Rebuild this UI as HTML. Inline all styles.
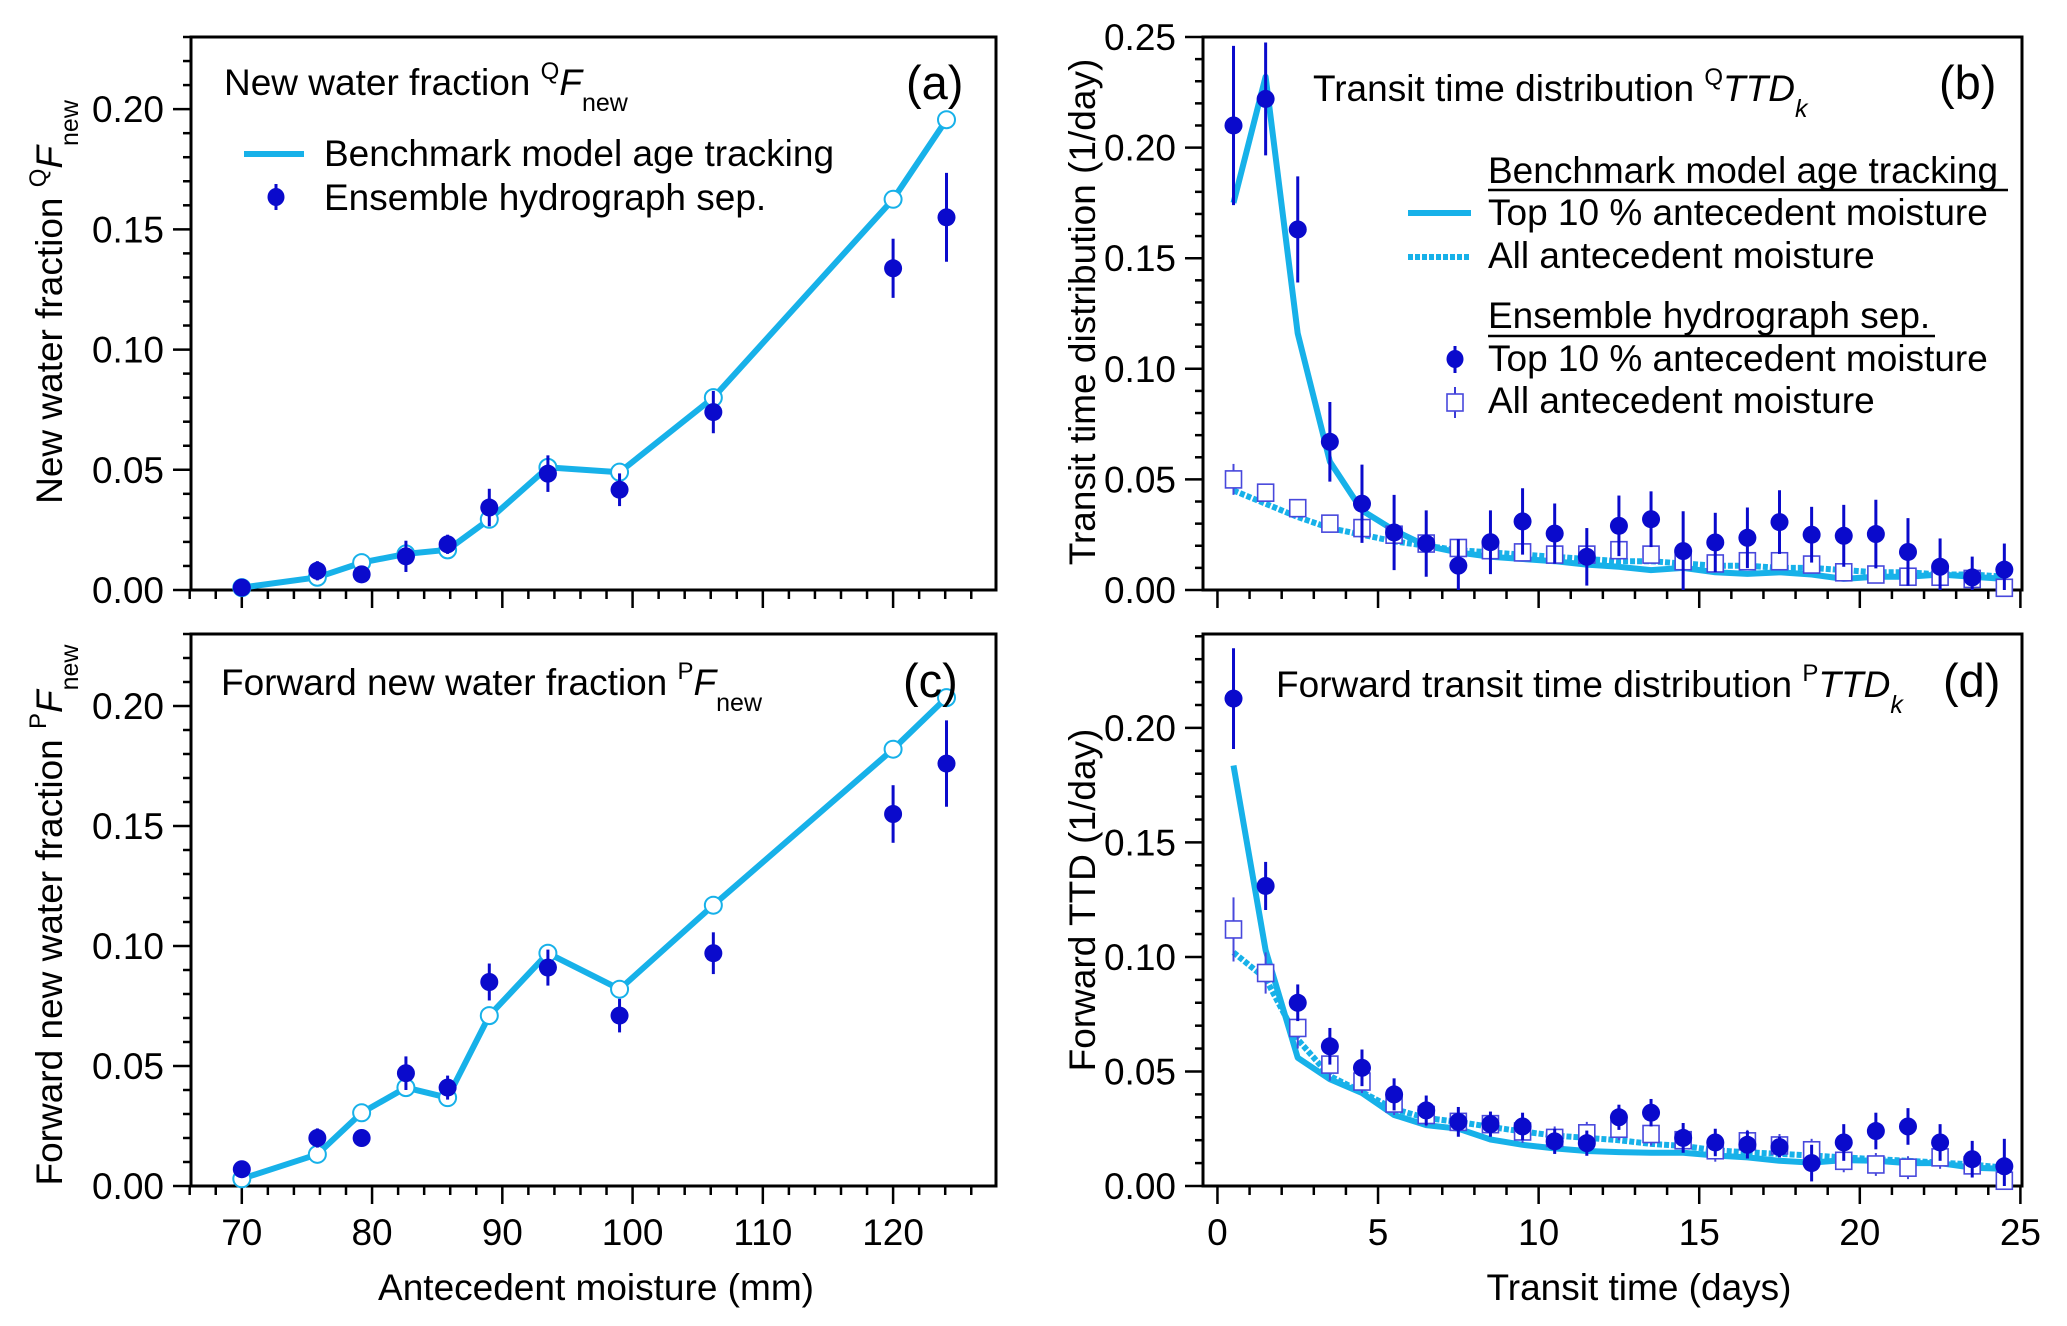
<!DOCTYPE html>
<html><head><meta charset="utf-8"><style>
html,body{margin:0;padding:0;background:#fff;}
svg{display:block;font-family:"Liberation Sans",Arial,sans-serif;}
</style></head><body>
<svg id="fig" width="2067" height="1326" viewBox="0 0 2067 1326" xmlns="http://www.w3.org/2000/svg">
<rect x="0" y="0" width="2067" height="1326" fill="#fff"/>
<g id="marks"></g>
<g id="texts" fill="#000" font-size="37">
  <!-- panel a -->
  <text x="224" y="95">New water fraction <tspan font-size="24" dy="-16">Q</tspan><tspan font-style="italic" dy="16">F</tspan><tspan font-size="25" dy="16">new</tspan></text>
  <text x="906" y="99" font-size="47">(a)</text>
  <line x1="244" y1="154" x2="304" y2="154" stroke="#17b1e9" stroke-width="6"/>
  <text x="324" y="166">Benchmark model age tracking</text>
  <line x1="276" y1="184" x2="276" y2="210" stroke="#0a0acc" stroke-width="3"/>
  <ellipse cx="276" cy="197" rx="8.5" ry="9" fill="#0a0acc"/>
  <text x="324" y="210">Ensemble hydrograph sep.</text>
  <text transform="translate(62,302) rotate(-90)" text-anchor="middle">New water fraction <tspan font-size="24" dy="-16">Q</tspan><tspan font-style="italic" dy="16">F</tspan><tspan font-size="25" dy="16">new</tspan></text>
  <!-- panel b -->
  <text x="1313" y="101">Transit time distribution <tspan font-size="24" dy="-16">Q</tspan><tspan font-style="italic" dy="16">TTD</tspan><tspan font-size="25" font-style="italic" dy="16">k</tspan></text>
  <text x="1939" y="99" font-size="47">(b)</text>
  <text x="1488" y="183">Benchmark model age tracking</text>
  <line x1="1488" y1="190" x2="2008" y2="190" stroke="#000" stroke-width="2.5"/>
  <line x1="1408" y1="213" x2="1471" y2="213" stroke="#17b1e9" stroke-width="6"/>
  <text x="1488" y="225">Top 10 % antecedent moisture</text>
  <line x1="1408" y1="257" x2="1471" y2="257" stroke="#17b1e9" stroke-width="6" stroke-dasharray="5,2"/>
  <text x="1488" y="268">All antecedent moisture</text>
  <text x="1488" y="328">Ensemble hydrograph sep.</text>
  <line x1="1488" y1="336" x2="1935" y2="336" stroke="#000" stroke-width="2.5"/>
  <line x1="1455" y1="346" x2="1455" y2="373" stroke="#0a0acc" stroke-width="3"/>
  <ellipse cx="1455" cy="359" rx="8.5" ry="9" fill="#0a0acc"/>
  <text x="1488" y="371">Top 10 % antecedent moisture</text>
  <line x1="1455" y1="387" x2="1455" y2="418" stroke="#3a3ad8" stroke-width="2"/>
  <rect x="1447" y="394" width="16" height="17" fill="#fff" stroke="#4848dc" stroke-width="1.6"/>
  <text x="1488" y="413">All antecedent moisture</text>
  <text transform="translate(1095,312) rotate(-90)" text-anchor="middle">Transit time distribution (1/day)</text>
  <!-- panel c -->
  <text x="221" y="695">Forward new water fraction <tspan font-size="24" dy="-16">P</tspan><tspan font-style="italic" dy="16">F</tspan><tspan font-size="25" dy="16">new</tspan></text>
  <text x="903" y="697" font-size="47">(c)</text>
  <text transform="translate(62,915) rotate(-90)" text-anchor="middle">Forward new water fraction <tspan font-size="24" dy="-16">P</tspan><tspan font-style="italic" dy="16">F</tspan><tspan font-size="25" dy="16">new</tspan></text>
  <text x="596" y="1300" text-anchor="middle">Antecedent moisture (mm)</text>
  <!-- panel d -->
  <text x="1276" y="697">Forward transit time distribution <tspan font-size="24" dy="-16">P</tspan><tspan font-style="italic" dy="16">TTD</tspan><tspan font-size="25" font-style="italic" dy="16">k</tspan></text>
  <text x="1943" y="697" font-size="47">(d)</text>
  <text transform="translate(1095,900) rotate(-90)" text-anchor="middle">Forward TTD (1/day)</text>
  <text x="1639" y="1300" text-anchor="middle">Transit time (days)</text>
</g>
</svg>
<script>
// ---- data ----
const moisture = [70, 75.8, 79.2, 82.6, 85.8, 89.0, 93.5, 99.0, 106.2, 120.0, 124.1];
const aModel = [0.001, 0.0053, 0.0114, 0.015, 0.0167, 0.0294, 0.051, 0.049, 0.080, 0.1625, 0.1956];
const aEns = [0.001, 0.008, 0.0065, 0.014, 0.019, 0.0343, 0.0484, 0.0417, 0.074, 0.1338, 0.155];
const aErr = [0.001, 0.004, 0.003, 0.0065, 0.004, 0.0078, 0.0076, 0.0068, 0.0088, 0.0123, 0.0185];
const cModel = [0.003, 0.0132, 0.0305, 0.041, 0.0368, 0.071, 0.097, 0.082, 0.117, 0.182, 0.2035];
const cEns = [0.007, 0.020, 0.020, 0.047, 0.041, 0.085, 0.091, 0.071, 0.097, 0.155, 0.176];
const cErr = [0.002, 0.004, 0.003, 0.007, 0.005, 0.0077, 0.0075, 0.007, 0.0087, 0.012, 0.018];

const ttdDays = [0.5,1.5,2.5,3.5,4.5,5.5,6.5,7.5,8.5,9.5,10.5,11.5,12.5,13.5,14.5,15.5,16.5,17.5,18.5,19.5,20.5,21.5,22.5,23.5,24.5];
const bModelTop = [0.175,0.232,0.116,0.058,0.036,0.027,0.020,0.017,0.015,0.014,0.013,0.0115,0.0105,0.009,0.010,0.008,0.0073,0.008,0.007,0.005,0.006,0.006,0.007,0.006,0.005];
const bModelAll = [0.045,0.039,0.033,0.028,0.025,0.022,0.020,0.018,0.017,0.016,0.015,0.014,0.013,0.013,0.012,0.011,0.011,0.010,0.010,0.009,0.008,0.008,0.007,0.007,0.006];
const bEnsTop = [0.210,0.222,0.163,0.067,0.039,0.026,0.021,0.011,0.0216,0.031,0.0255,0.015,0.029,0.032,0.0176,0.0215,0.0236,0.0307,0.025,0.0245,0.0253,0.0172,0.0105,0.0057,0.0092];
const bEnsTopErr = [0.036,0.0255,0.024,0.018,0.0177,0.017,0.015,0.012,0.0144,0.015,0.0136,0.013,0.0137,0.0126,0.018,0.0134,0.0137,0.0144,0.0126,0.014,0.0155,0.0153,0.0128,0.0094,0.0118];
const bEnsAll = [0.050,0.044,0.037,0.030,0.028,0.025,0.021,0.019,0.018,0.017,0.016,0.016,0.018,0.016,0.013,0.012,0.013,0.013,0.0115,0.008,0.007,0.006,0.006,0.005,0.001];
const bEnsAllErr = [0.007,0.004,0.004,0.003,0.004,0.004,0.003,0.003,0.003,0.003,0.003,0.003,0.003,0.003,0.003,0.003,0.003,0.003,0.003,0.003,0.003,0.003,0.003,0.003,0.002];

const dModelTop = [0.1836,0.103,0.056,0.0466,0.0406,0.031,0.0266,0.025,0.0203,0.018,0.0164,0.0153,0.0148,0.0145,0.0145,0.0133,0.0125,0.011,0.0102,0.0113,0.011,0.010,0.010,0.008,0.0075];
const dModelAll = [0.102,0.0906,0.064,0.048,0.041,0.0336,0.0297,0.028,0.0258,0.0238,0.022,0.021,0.020,0.0184,0.0175,0.0156,0.0147,0.014,0.0133,0.0125,0.0117,0.011,0.0102,0.0094,0.008];
const dEnsTop = [0.2128,0.131,0.080,0.061,0.0516,0.040,0.033,0.028,0.027,0.026,0.0195,0.0187,0.030,0.032,0.021,0.019,0.018,0.017,0.010,0.019,0.024,0.026,0.019,0.0117,0.0086];
const dEnsTopErr = [0.022,0.0105,0.008,0.008,0.008,0.007,0.0065,0.0065,0.0055,0.006,0.0055,0.0055,0.0055,0.006,0.0065,0.006,0.006,0.0045,0.008,0.008,0.008,0.008,0.008,0.008,0.012];
const dEnsAll = [0.112,0.093,0.069,0.053,0.0456,0.036,0.031,0.028,0.027,0.0238,0.021,0.023,0.025,0.0227,0.020,0.0156,0.0195,0.0177,0.0156,0.011,0.0094,0.008,0.0125,0.009,0.0023];
const dEnsAllErr = [0.014,0.009,0.009,0.007,0.005,0.005,0.005,0.005,0.005,0.005,0.005,0.005,0.005,0.005,0.005,0.005,0.005,0.005,0.005,0.005,0.005,0.005,0.005,0.005,0.004];

const fracTicks = [0, 0.05, 0.10, 0.15, 0.20];
const fracTickLabels = ["0.00","0.05","0.10","0.15","0.20"];
const ttdTicksB = [0, 0.05, 0.10, 0.15, 0.20, 0.25];
const ttdTickLabelsB = ["0.00","0.05","0.10","0.15","0.20","0.25"];
const moistTicks = [70, 80, 90, 100, 110, 120];
const moistTickLabels = ["70","80","90","100","110","120"];
const dayTicks = [0, 5, 10, 15, 20, 25];
const dayTickLabels = ["0","5","10","15","20","25"];

// ---- rendering ----
const NS = "http://www.w3.org/2000/svg";
const root = document.getElementById("marks");
const CYAN = "#17b1e9", BLUE = "#0a0acc", SQ = "#4848dc";
function mk(tag, attrs, parent) {
  const e = document.createElementNS(NS, tag);
  for (const k in attrs) e.setAttribute(k, attrs[k]);
  (parent || root).appendChild(e);
  return e;
}
function panel(cfg) {
  const p = Object.assign({}, cfg);
  p.sx = v => p.x0 + (v - p.xmin) / (p.xmax - p.xmin) * (p.x1 - p.x0);
  p.sy = v => p.y1 - (v - 0) / (p.ymax - 0) * (p.y1 - p.y0);
  return p;
}
const PA = panel({x0:191, x1:996, y0:37, y1:590, xmin:66.1, xmax:127.9, ymax:0.23});
const PB = panel({x0:1203, x1:2022, y0:37, y1:590, xmin:-0.45, xmax:25.05, ymax:0.25});
const PC = panel({x0:191, x1:996, y0:634, y1:1186, xmin:66.1, xmax:127.9, ymax:0.23});
const PD = panel({x0:1203, x1:2022, y0:634, y1:1186, xmin:-0.45, xmax:25.05, ymax:0.241});

function fracMajor(v, arr) { return arr.some(a => Math.abs(a - v) < 1e-6); }
function axes(p, name, yt, ytl, yminor, xt, xtl, xminorStep, xminorStart, showXLabels) {
  const g = mk("g", {});
  
  
  for (let v = 0; v <= p.ymax + 1e-9; v += yminor) {
    const y = p.sy(v);
    const major = fracMajor(v, yt);
    mk("line", {x1:p.x0 - (major ? 18 : 8), x2:p.x0, y1:y, y2:y, stroke:"#000", "stroke-width":2.5}, g);
  }
  yt.forEach((v, i) => {
    const t = mk("text", {x:p.x0 - 27, y:p.sy(v) + 13, "text-anchor":"end", "font-size":37}, g);
    t.textContent = ytl[i];
    
    
  });
  for (let v = xminorStart; v <= p.xmax + 1e-9; v += xminorStep) {
    const x = p.sx(v);
    const major = fracMajor(v, xt);
    mk("line", {x1:x, x2:x, y1:p.y1, y2:p.y1 + (major ? 18 : 9), stroke:"#000", "stroke-width":2.5}, g);
  }
  if (showXLabels) {
    xt.forEach((v, i) => {
      const t = mk("text", {x:p.sx(v), y:1245, "text-anchor":"middle", "font-size":37}, g);
      t.textContent = xtl[i];
      
      
    });
  }
  const f = mk("rect", {x:p.x0, y:p.y0, width:p.x1 - p.x0, height:p.y1 - p.y0, fill:"none", stroke:"#000", "stroke-width":3}, g);
  
  
}

function line(p, xs, ys, name, dashed) {
  const pts = xs.map((x, i) => p.sx(x).toFixed(1) + "," + p.sy(ys[i]).toFixed(1)).join(" ");
  const l = mk("polyline", {points:pts, fill:"none", stroke:CYAN, "stroke-width":6, "stroke-linejoin":"round"});
  if (dashed) l.setAttribute("stroke-dasharray", "5,2");
  
  
}
function openCircles(p, xs, ys, name) {
  xs.forEach((x, i) => {
    const c = mk("ellipse", {cx:p.sx(x), cy:p.sy(ys[i]), rx:8.5, ry:8.5, fill:"#fff", stroke:CYAN, "stroke-width":2});
    
    
  });
}
function errDots(p, xs, ys, es, name) {
  xs.forEach((x, i) => {
    const cx = p.sx(x);
    const lo = Math.max(0, ys[i] - es[i]);
    const b = mk("line", {x1:cx, x2:cx, y1:p.sy(ys[i] + es[i]), y2:p.sy(lo), stroke:BLUE, "stroke-width":3});
    
    
    const d = mk("ellipse", {cx:cx, cy:p.sy(ys[i]), rx:9, ry:9, fill:BLUE});
    
    
  });
}
function errSquares(p, xs, ys, es, name) {
  xs.forEach((x, i) => {
    const cx = p.sx(x);
    const lo = Math.max(0, ys[i] - es[i]);
    const b = mk("line", {x1:cx, x2:cx, y1:p.sy(ys[i] + es[i]), y2:p.sy(lo), stroke:SQ, "stroke-width":2});
    
    
    const s = mk("rect", {x:cx - 8, y:p.sy(ys[i]) - 8.5, width:16, height:17, fill:"#fff", stroke:SQ, "stroke-width":1.6});
    
    
  });
}

axes(PA, "panel-a", fracTicks, fracTickLabels, 0.01, moistTicks, moistTickLabels, 2, 66, false);
axes(PC, "panel-c", fracTicks, fracTickLabels, 0.01, moistTicks, moistTickLabels, 2, 66, true);
axes(PB, "panel-b", ttdTicksB, ttdTickLabelsB, 0.01, dayTicks, dayTickLabels, 1, 0, false);
axes(PD, "panel-d", fracTicks, fracTickLabels, 0.01, dayTicks, dayTickLabels, 1, 0, true);

line(PA, moisture, aModel, "panel-a-model-line");
openCircles(PA, moisture, aModel, "panel-a-model-point");
errDots(PA, moisture, aEns, aErr, "panel-a-ensemble-point");

line(PC, moisture, cModel, "panel-c-model-line");
openCircles(PC, moisture, cModel, "panel-c-model-point");
errDots(PC, moisture, cEns, cErr, "panel-c-ensemble-point");

line(PB, ttdDays, bModelAll, "panel-b-model-all-line", true);
line(PB, ttdDays, bModelTop, "panel-b-model-top10-line");
errSquares(PB, ttdDays, bEnsAll, bEnsAllErr, "panel-b-ensemble-all-point");
errDots(PB, ttdDays, bEnsTop, bEnsTopErr, "panel-b-ensemble-top10-point");

line(PD, ttdDays, dModelAll, "panel-d-model-all-line", true);
line(PD, ttdDays, dModelTop, "panel-d-model-top10-line");
errSquares(PD, ttdDays, dEnsAll, dEnsAllErr, "panel-d-ensemble-all-point");
errDots(PD, ttdDays, dEnsTop, dEnsTopErr, "panel-d-ensemble-top10-point");
</script>
</body></html>
